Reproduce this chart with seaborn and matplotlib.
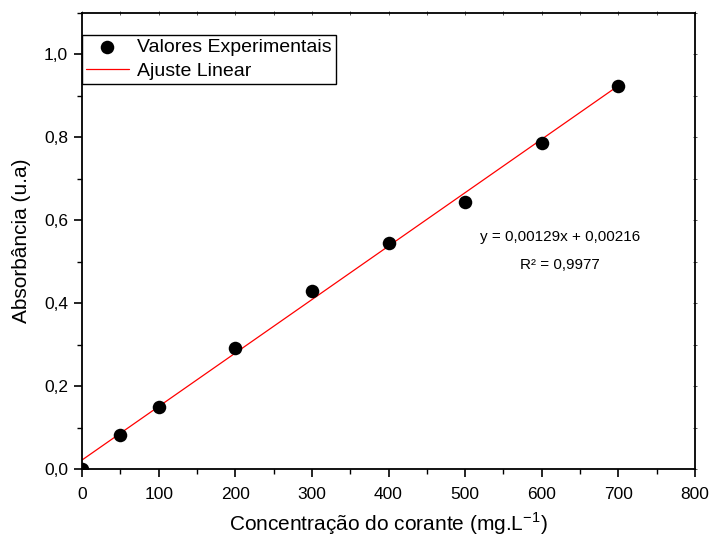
import matplotlib
matplotlib.use("Agg")
import matplotlib.pyplot as plt
import seaborn as sns
import numpy as np
import pandas as pd
from matplotlib.ticker import MultipleLocator, FuncFormatter

concentracao = [0, 50, 100, 200, 300, 400, 500, 600, 700]
absorbancia = [0.0, 0.082, 0.149, 0.292, 0.429, 0.545, 0.643, 0.786, 0.925]
slope = 0.00129
intercept = 0.0216
fit_range = [0, 700]
eq_text = "y = 0,00129x + 0,00216"
r2_text = "R² = 0,9977"

sns.set_theme(style="ticks")
plt.rcParams['font.family'] = ['Liberation Sans', 'DejaVu Sans']
plt.rcParams['text.color'] = 'black'
plt.rcParams['axes.labelcolor'] = 'black'
plt.rcParams['xtick.color'] = 'black'
plt.rcParams['ytick.color'] = 'black'

fig = plt.figure(figsize=(7.1, 5.39), dpi=100)
ax = fig.add_axes([0.1155, 0.1299, 0.8634, 0.846])

df = pd.DataFrame({"x": concentracao, "y": absorbancia})
fit_x = np.array(fit_range, dtype=float)
fit_df = pd.DataFrame({"x": fit_x, "y": slope * fit_x + intercept})

sns.scatterplot(data=df, x="x", y="y", ax=ax, color="black", s=95,
                edgecolor="black", linewidth=0, label="Valores Experimentais",
                zorder=3, clip_on=True)
sns.lineplot(data=fit_df, x="x", y="y", ax=ax, color="red", linewidth=0.9,
             label="Ajuste Linear", zorder=2)

ax.set_xlim(0, 800)
ax.set_ylim(0, 1.1)
ax.xaxis.set_major_locator(MultipleLocator(100))
ax.xaxis.set_minor_locator(MultipleLocator(50))
ax.yaxis.set_major_locator(MultipleLocator(0.2))
ax.yaxis.set_minor_locator(MultipleLocator(0.1))
ax.yaxis.set_major_formatter(FuncFormatter(lambda v, p: f"{v:.1f}".replace(".", ",")))

for s in ax.spines.values():
    s.set_linewidth(1.3)
    s.set_color("black")

ax.tick_params(which="major", direction="out", length=6, width=1.2, labelsize=12.5,
               colors="black")
ax.tick_params(axis="x", which="major", pad=7)
ax.tick_params(axis="y", which="major", pad=4)
ax.tick_params(which="minor", direction="out", length=3.5, width=1.0, colors="black")
ax.tick_params(which="both", top=False, right=False)

sec_x = ax.secondary_xaxis("top")
sec_x.xaxis.set_major_locator(MultipleLocator(50))
sec_x.tick_params(which="major", direction="inout", length=2.5, width=0.7,
                  color="#555555", labeltop=False)
sec_x.tick_params(which="minor", length=0)
sec_y = ax.secondary_yaxis("right")
sec_y.yaxis.set_major_locator(MultipleLocator(0.1))
sec_y.tick_params(which="major", direction="inout", length=2.5, width=0.7,
                  color="#555555", labelright=False)
sec_y.tick_params(which="minor", length=0)
for sa in (sec_x, sec_y):
    for s in sa.spines.values():
        s.set_visible(False)

ax.set_xlabel("Concentração do corante (mg.L$^{\\mathregular{-1}}$)", fontsize=15,
              labelpad=6, color="black")
ax.set_ylabel("Absorbância (u.a)", fontsize=15, labelpad=9, color="black")

ax.text(0.78, 0.509, eq_text, transform=ax.transAxes, ha="center", va="center",
        fontsize=11, color="black")
ax.text(0.78, 0.447, r2_text, transform=ax.transAxes, ha="center", va="center",
        fontsize=11, color="black")

leg = ax.legend(loc="upper left", bbox_to_anchor=(0.0, 0.952), borderaxespad=0,
                fontsize=14, frameon=True, fancybox=False, framealpha=1,
                edgecolor="black", handlelength=2.2, handletextpad=0.45,
                borderpad=0.2, labelspacing=0.3, markerscale=1.0)
leg.get_frame().set_linewidth(1.0)
for t in leg.get_texts():
    t.set_color("black")

fig.savefig("out.png", dpi=100)
